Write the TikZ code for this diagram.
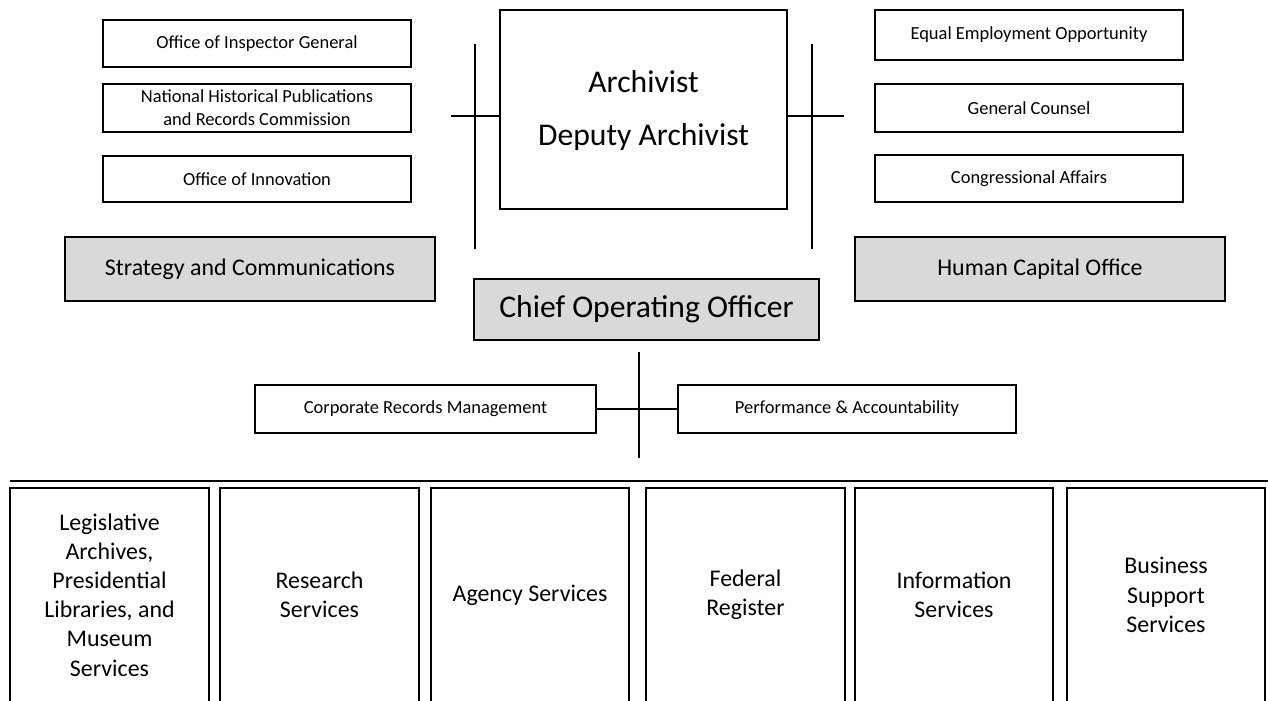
\documentclass[tikz,border=0pt]{standalone}
\usepackage{fontspec}
\setmainfont{Carlito}
\begin{document}
\begin{tikzpicture}[x=0.02cm,y=-0.02cm,
  box/.style={draw=black,line width=1.1pt,fill=white,inner sep=0pt,align=center,text=black},
  smallbox/.style={box,font=\fontsize{10.5}{13}\selectfont},
  graybox/.style={box,fill=gray!30,font=\fontsize{13.6}{16.6}\selectfont},
  unitbox/.style={box,minimum width=3.98cm,minimum height=4.28cm,font=\fontsize{13.6}{16.6}\selectfont},
  conn/.style={draw=black,line width=1.2pt}]
\clip (0,0) rectangle (1268,700);
\fill[white] (0,0) rectangle (1268,700);
% left staff
\node[smallbox,minimum width=6.16cm,minimum height=0.94cm] (oig) at (257,43.5) {Office of Inspector General};
\node[smallbox,minimum width=6.16cm,minimum height=0.96cm] (nhprc) at (257,108) {National Historical Publications\\and Records Commission};
\node[smallbox,minimum width=6.16cm,minimum height=0.92cm] (innov) at (257,179) {Office of Innovation};
\node[graybox,minimum width=7.4cm,minimum height=1.28cm] (strat) at (250,269) {Strategy and Communications};
% archivist
\node[box,minimum width=5.74cm,minimum height=3.98cm,font=\fontsize{18}{30}\selectfont] (arch) at (643.5,109.5) {\rule{0pt}{14pt}Archivist\\Deputy Archivist};
% right staff
\node[smallbox,minimum width=6.16cm,minimum height=1.0cm] (eeo) at (1029,35) {Equal Employment Opportunity};
\node[smallbox,minimum width=6.16cm,minimum height=0.96cm] (gc) at (1029,108) {General Counsel};
\node[smallbox,minimum width=6.16cm,minimum height=0.94cm] (ca) at (1029,178.5) {Congressional Affairs};
\node[graybox,minimum width=7.4cm,minimum height=1.28cm] (hc) at (1040,269) {Human Capital Office};
% COO
\node[box,fill=gray!30,minimum width=6.9cm,minimum height=1.22cm,font=\fontsize{18}{22}\selectfont] (coo) at (646.5,309.5) {Chief Operating Officer};
\node[smallbox,minimum width=6.82cm,minimum height=0.96cm] (crm) at (425.5,409) {Corporate Records Management};
\node[smallbox,minimum width=6.76cm,minimum height=0.96cm] (pa) at (847,409) {Performance \& Accountability};
% connectors
\coordinate (lt) at (475,44);
\coordinate (lb) at (475,249);
\coordinate (lx) at (451,116);
\draw[conn] (lt) -- (lb);
\draw[conn] (lx) -- (lx -| arch.west);
\coordinate (rt) at (812,44);
\coordinate (rb) at (812,249);
\coordinate (rx) at (844,116);
\draw[conn] (rt) -- (rb);
\draw[conn] (rx -| arch.east) -- (rx);
\coordinate (ct) at (639,352);
\coordinate (cb) at (639,458);
\draw[conn] (ct) -- (cb);
\draw[conn] (crm.east) -- (pa.west);
\coordinate (sl) at (10,481);
\coordinate (sr) at (1268,481);
\draw[conn] (sl) -- (sr);
% units
\node[unitbox] (u1) at (109.5,595) {Legislative\\Archives,\\Presidential\\Libraries, and\\Museum\\Services};
\node[unitbox] (u2) at (319.5,595) {Research\\Services};
\node[unitbox,minimum width=3.96cm] (u3) at (530,595) {Agency Services};
\node[unitbox] (u4) at (745.5,595) {Federal\\Register};
\node[unitbox,minimum width=3.96cm] (u5) at (954,595) {Information\\Services};
\node[unitbox,minimum width=3.96cm] (u6) at (1166,595) {Business\\Support\\Services};
\end{tikzpicture}
\end{document}
